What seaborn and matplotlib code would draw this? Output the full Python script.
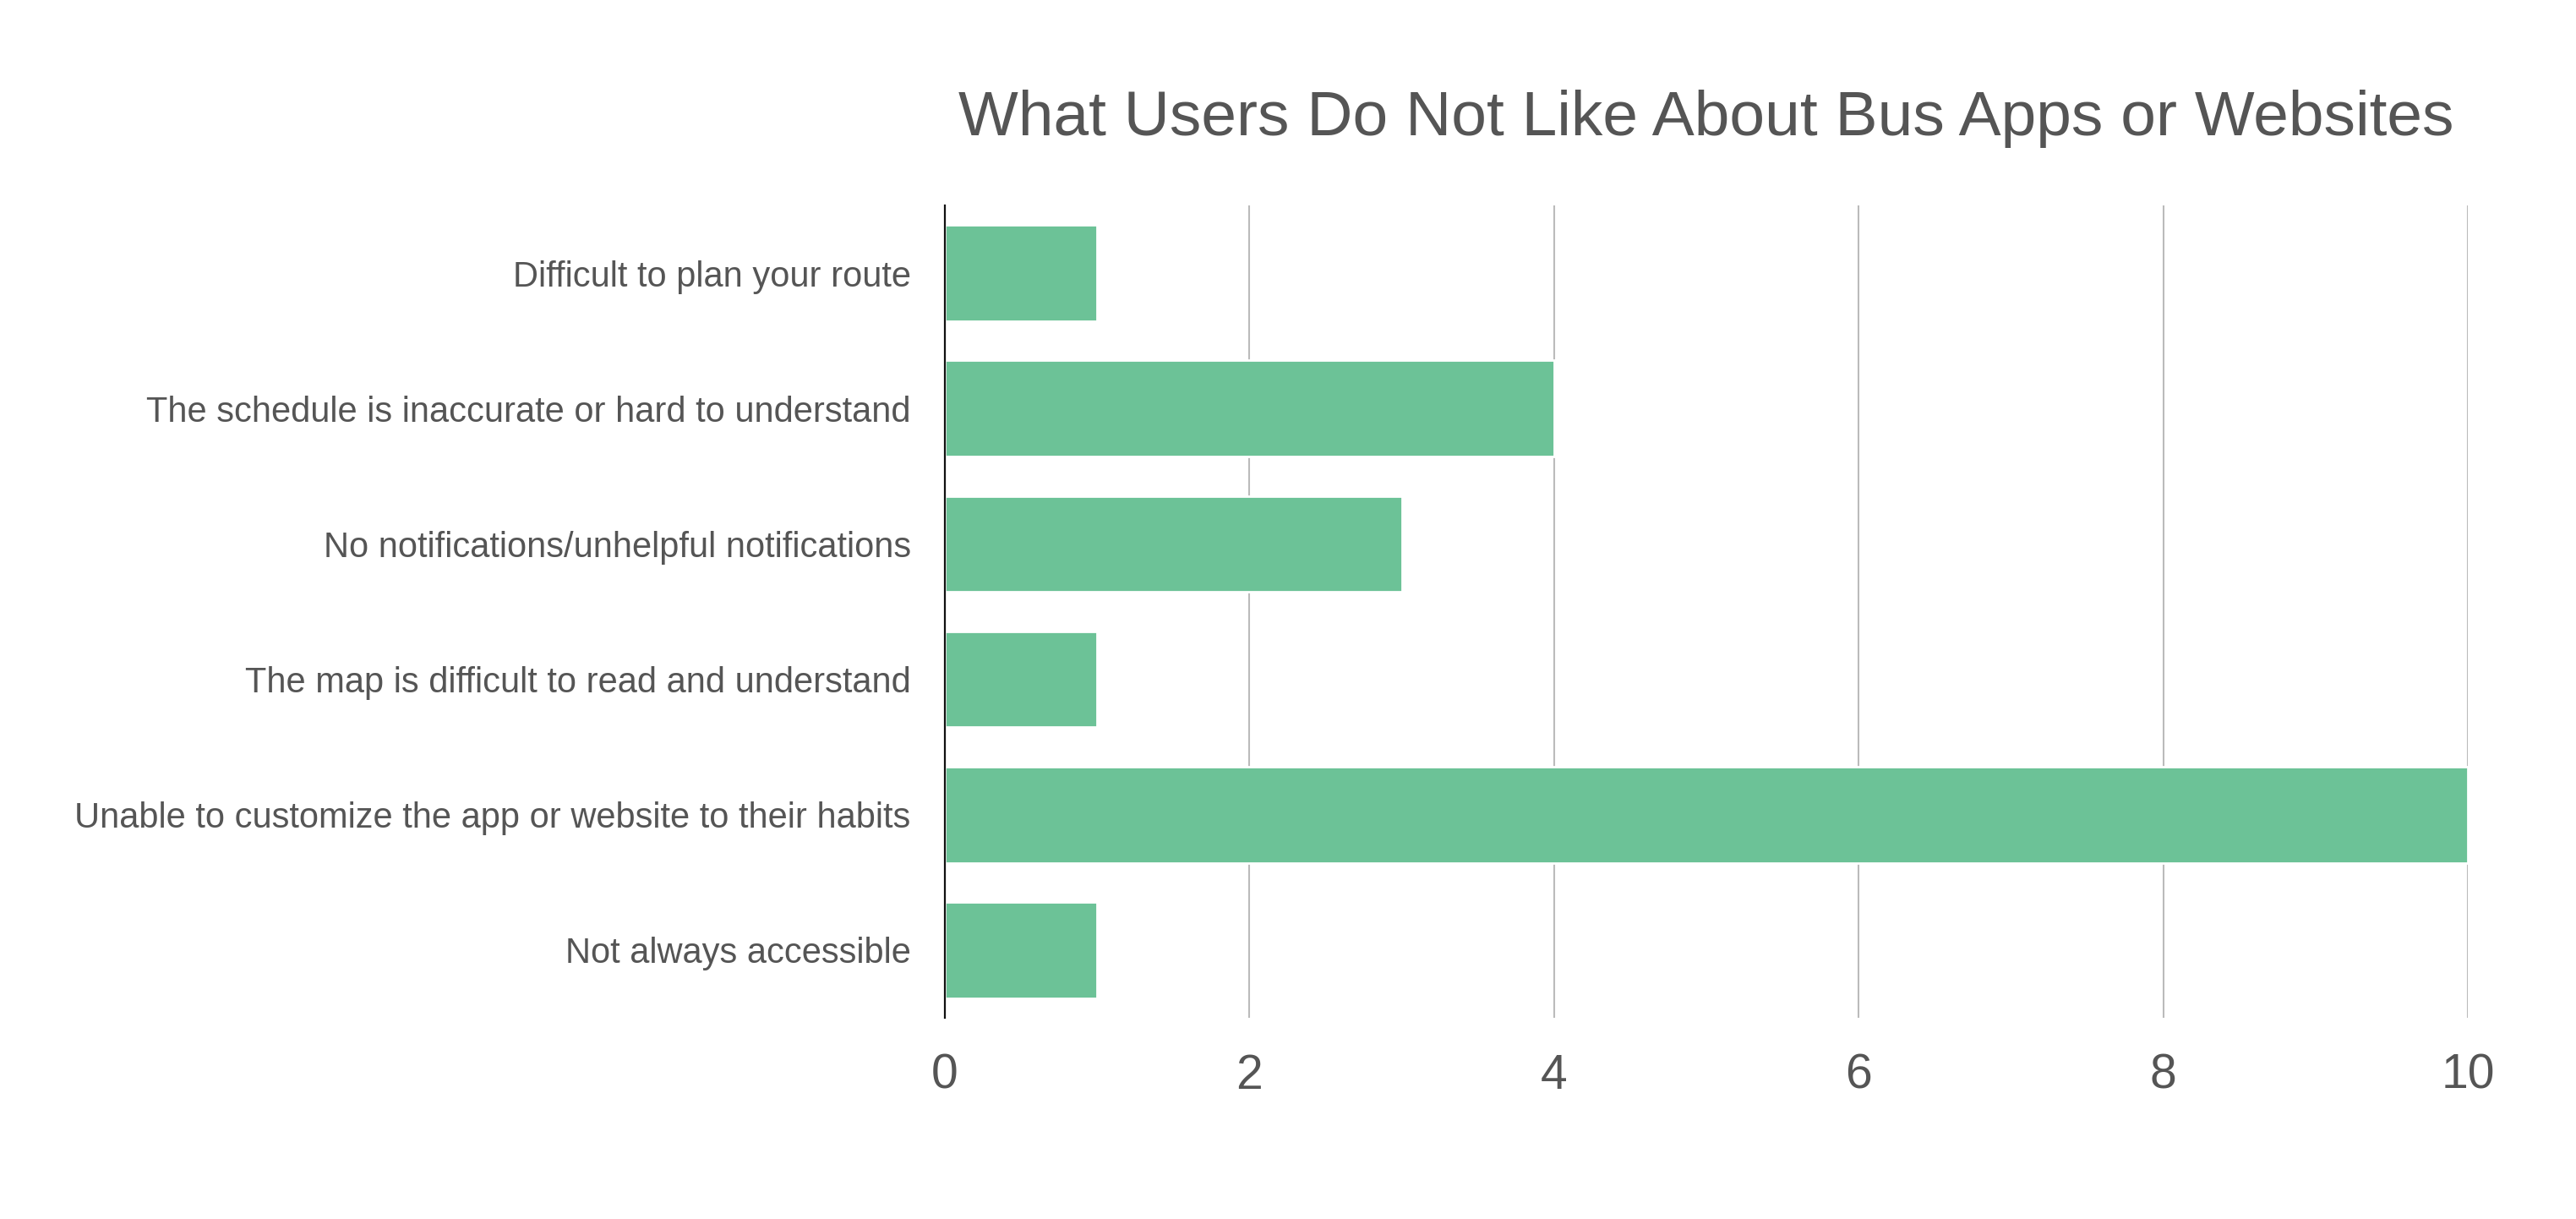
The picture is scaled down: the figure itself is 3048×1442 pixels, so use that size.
import matplotlib
matplotlib.use('Agg')
import matplotlib.pyplot as plt
import seaborn as sns

categories = [
    'Difficult to plan your route',
    'The schedule is inaccurate or hard to understand',
    'No notifications/unhelpful notifications',
    'The map is difficult to read and understand',
    'Unable to customize the app or website to their habits',
    'Not always accessible',
]
counts = [1, 4, 3, 1, 10, 1]
x_ticks = [0, 2, 4, 6, 8, 10]

title = 'What Users Do Not Like About Bus Apps or Websites'
bar_color = '#6cc297'
text_color = '#555555'

sns.set_style('white')
plt.rcParams['font.family'] = ['Liberation Sans', 'DejaVu Sans']

fig = plt.figure(figsize=(15.24, 7.21), dpi=200)
ax = fig.add_axes([0.3668, 0.165, 0.5912, 0.6665])

sns.barplot(x=counts, y=categories, orient='h', color=bar_color,
            saturation=1, width=0.71, ax=ax, zorder=3)

ax.set_xlim(0, 10)
ax.set_xticks(x_ticks)
ax.set_xticklabels([str(t) for t in x_ticks])
ax.grid(axis='x', color='#bbbbbb', linewidth=0.75, zorder=0)
ax.set_axisbelow(True)

for side in ['top', 'right', 'bottom']:
    ax.spines[side].set_visible(False)
ax.spines['left'].set_color('#111111')
ax.spines['left'].set_linewidth(0.8)
ax.spines['left'].set_zorder(4)

ax.tick_params(axis='x', length=0, pad=15, labelsize=20.5, labelcolor=text_color)
ax.tick_params(axis='y', length=0, pad=14.5, labelsize=15, labelcolor=text_color)
ax.set_xlabel('')
ax.set_ylabel('')
ax.set_title(title, fontsize=27, color=text_color, pad=30)

fig.savefig('out.png', dpi=200)
